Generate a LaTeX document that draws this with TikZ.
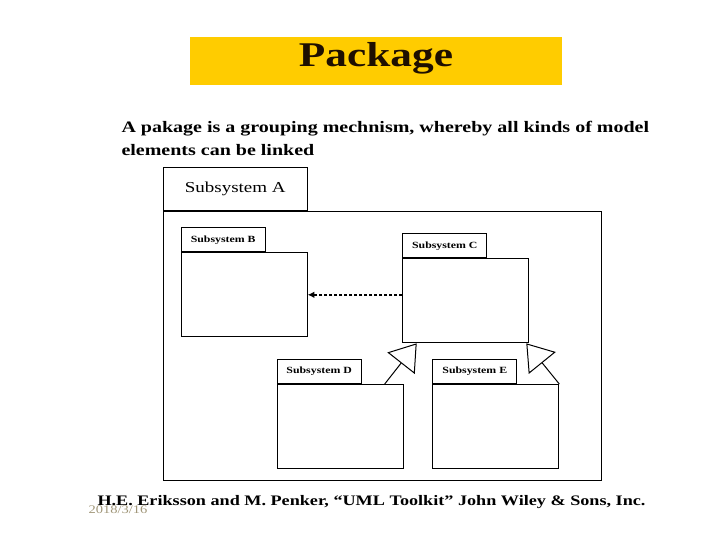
\documentclass[tikz,border=0pt]{standalone}
\usepackage{fontspec}
\setmainfont[FakeStretch=1.25]{Liberation Serif}
\usetikzlibrary{arrows.meta,positioning}

\tikzset{every picture/.style={line width=0.75pt}}
\tikzset{
  pkgbody/.style={draw, inner sep=0pt, minimum width=94.5pt, minimum height=63pt},
  pkgtab/.style={draw, inner sep=0pt, minimum width=63pt, minimum height=18pt, font=\fontsize{7.1}{9}\selectfont\bfseries},
  depends/.style={line width=1.2pt, dash pattern=on 2.25pt off 1.5pt, -{Latex[length=5pt,width=5pt]}},
  generalize/.style={-{Triangle[open,length=19pt,width=26pt]}}
}

\begin{document}
\begin{tikzpicture}[x=0.75pt,y=0.75pt,yscale=-1,xscale=1]
\useasboundingbox (0,0) rectangle (720,540);

%Shape: Rectangle [title bar]
\node [fill={rgb, 255:red, 255; green, 204; blue, 0 }, inner sep=0pt, minimum width=279pt, minimum height=36pt] (titlebar) at (376,61.2) {};
% Text Node
\node [anchor=base, color={rgb, 255:red, 30; green, 15; blue, 0 }, inner sep=0.75pt, font=\fontsize{26}{30}\selectfont\bfseries] (title) at (376,66.7) {Package};
% Text Node
\node [anchor=north west, inner sep=0pt, align=left, font=\fontsize{12}{17}\selectfont\bfseries] (intro) at (121,121) {A pakage is a grouping mechnism, whereby all kinds of model\\elements can be linked};

%Shape: Package A
\node [draw, inner sep=0pt, minimum width=328.5pt, minimum height=202pt, anchor=north west] (frameA) at (162.7,210.7) {};
\node [draw, inner sep=0pt, minimum width=108pt, minimum height=31.8pt, anchor=south west, font=\fontsize{11.4}{14}\selectfont] (tabA) at (frameA.north west) {Subsystem A};

%Shape: Package B
\node [pkgbody, anchor=north west] (Bbody) at (180.7,252.3) {};
\node [pkgtab, anchor=south west] (Btab) at (Bbody.north west) {Subsystem B};
%Shape: Package C
\node [pkgbody, anchor=north west] (Cbody) at (402.3,258.3) {};
\node [pkgtab, anchor=south west] (Ctab) at (Cbody.north west) {Subsystem C};
%Shape: Package D
\node [pkgbody, anchor=north west] (Dbody) at (276.7,384) {};
\node [pkgtab, anchor=south west] (Dtab) at (Dbody.north west) {Subsystem D};
%Shape: Package E
\node [pkgbody, anchor=north west] (Ebody) at (432.3,384) {};
\node [pkgtab, anchor=south west] (Etab) at (Ebody.north west) {Subsystem E};

%Straight Lines [dependency]
\draw [depends] (Cbody.west |- Bbody.east) -- (Bbody.east);
%Straight Lines [generalization]
\draw [generalize] ([shift={(-19,0)}]Dbody.north east) -- ([shift={(14.4,0)}]Cbody.south west);
\draw [generalize] (Ebody.north east) -- ([shift={(-3,0)}]Cbody.south east);

% Text Node
\node [anchor=base west, inner sep=0pt, font=\fontsize{10.9}{13}\selectfont\bfseries] (source) at (97,505) {H.E. Eriksson and M. Penker, “UML Toolkit” John Wiley \& Sons, Inc.};
% Text Node
\node [anchor=base west, inner sep=0pt, color={rgb, 255:red, 160; green, 150; blue, 120 }, font=\fontsize{8.7}{11}\selectfont] (date) at (88,513.5) {2018/3/16};

\end{tikzpicture}
\end{document}
